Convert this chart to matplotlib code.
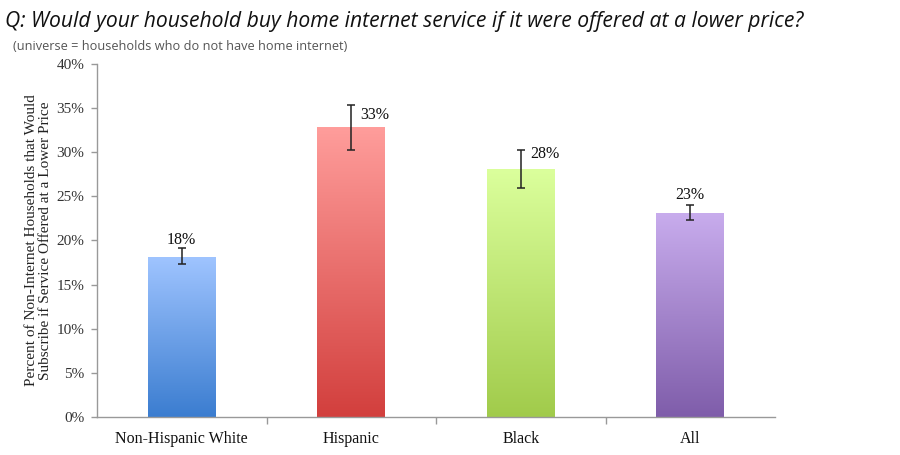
import matplotlib
matplotlib.use("Agg")
import matplotlib.pyplot as plt
import numpy as np
from matplotlib.colors import LinearSegmentedColormap

categories = ["Non-Hispanic White", "Hispanic", "Black", "All"]
values = [18.1, 32.8, 28.0, 23.1]
err_low = [17.3, 30.3, 25.9, 22.3]
err_high = [19.1, 35.3, 30.2, 24.0]
labels = ["18%", "33%", "28%", "23%"]
yticks = [0, 5, 10, 15, 20, 25, 30, 35, 40]

top_colors = ["#9fc4ff", "#ff9d9b", "#dbff9c", "#c8aced"]
bottom_colors = ["#3b7dd0", "#d23f3d", "#a1cb4b", "#7f5daa"]

fig = plt.figure(figsize=(9, 4.55), dpi=100)
ax = fig.add_axes([97/900, 38/455, 678/900, 353/455])

serif = ["Liberation Serif", "DejaVu Serif"]
x = np.arange(len(categories))
bars = ax.bar(x, values, width=0.4, color="none", edgecolor="none", zorder=2)
grad = np.linspace(1, 0, 256).reshape(-1, 1)
for b, ct, cb in zip(bars, top_colors, bottom_colors):
    cmap = LinearSegmentedColormap.from_list("g", [cb, ct])
    x0, y0 = b.get_x(), b.get_y()
    w, h = b.get_width(), b.get_height()
    ax.imshow(grad, cmap=cmap, aspect="auto", extent=[x0, x0 + w, y0, y0 + h],
              zorder=2, interpolation="bilinear")

yerr = [np.array(values) - np.array(err_low), np.array(err_high) - np.array(values)]
ax.errorbar(x, values, yerr=yerr, fmt="none", ecolor="#222222", elinewidth=1.1,
            capsize=3, capthick=1.1, zorder=3)

# label placement: above for some, right for others
for i, lab in enumerate(labels):
    if i in (1, 2):
        ax.text(x[i] + 0.055, err_high[i] - (1.05 if i == 1 else 0.45), lab,
                ha="left", va="center", fontsize=11.5, family=serif, color="#111111")
    else:
        ax.text(x[i], err_high[i] + (1.0 if i == 0 else 1.2), lab,
                ha="center", va="center", fontsize=11.5, family=serif, color="#111111")

ax.set_xlim(-0.5, 3.5)
ax.set_ylim(0, 40)
ax.set_yticks(yticks)
ax.set_yticklabels([f"{t}%" for t in yticks], family=serif, fontsize=11, color="#333333")
ax.set_xticks(x)
ax.set_xticklabels(categories, family=serif, fontsize=11.5, color="#111111")
ax.tick_params(axis="x", length=0, pad=10)
ax.set_xticks([0.5, 1.5, 2.5], minor=True)
ax.tick_params(axis="x", which="minor", length=5, color="#999999", width=1)
ax.tick_params(axis="y", length=4, color="#999999", width=1, pad=5)
for s in ["top", "right"]:
    ax.spines[s].set_visible(False)
for s in ["left", "bottom"]:
    ax.spines[s].set_color("#999999")
    ax.spines[s].set_linewidth(1)

ax.set_ylabel("Percent of Non-Internet Households that Would\nSubscribe if Service Offered at a Lower Price",
              family=serif, fontsize=11, color="#222222", linespacing=1.15, labelpad=3)

fig.text(5/900, 1 - 22/455, "Q: Would your household buy home internet service if it were offered at a lower price?",
         family=["Open Sans", "DejaVu Sans"], style="italic", fontsize=15.2, va="center", ha="left", color="#111111")
fig.text(13/900, 1 - 46/455, "(universe = households who do not have home internet)",
         family=["Open Sans", "DejaVu Sans"], fontsize=9.2, va="center", ha="left", color="#555555")

fig.savefig("out.png", dpi=100)
